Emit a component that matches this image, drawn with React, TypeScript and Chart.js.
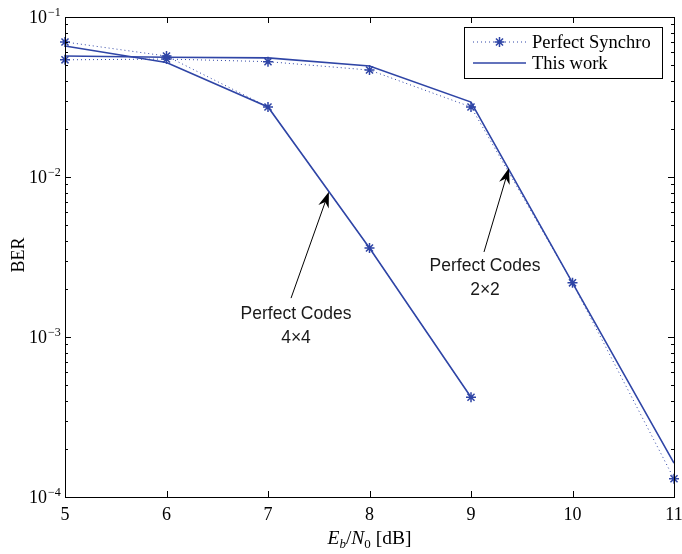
import React, { useEffect, useRef } from "react";
import { Chart, registerables } from "chart.js";
Chart.register(...registerables);

// ---- data ----
const snr4 = [5, 6, 7, 8, 9];
const snr2 = [5, 6, 7, 8, 9, 10, 11];
const sync4 = [0.0698, 0.057, 0.0274, 0.0036, 0.00042];
const work4 = [0.0659, 0.052, 0.0274, 0.0036, 0.00042];
const sync2 = [0.054, 0.0546, 0.0526, 0.0466, 0.0274, 0.00218, 0.00013];
const work2 = [0.057, 0.056, 0.0555, 0.0494, 0.0294, 0.00218, 0.000163];
const xTickValues = [5, 6, 7, 8, 9, 10, 11];
const yDecadeExponents = [-4, -3, -2, -1];
const legendLabels = ["Perfect Synchro", "This work"];
const xTitleParts = ["E", "b", "/", "N", "0", " [dB]"];
const yTitle = "BER";
const annotationTexts = [
  ["Perfect Codes", "4×4"],
  ["Perfect Codes", "2×2"],
];
// annotation anchors in data coordinates: [headX, headY, tailX, tailY, textX, textY]
const annotationAnchors = [
  [7.6, 0.0081, 7.227, 0.00175, 7.276, 0.00141],
  [9.374, 0.01138, 9.128, 0.0034, 9.138, 0.00282],
];

const BLUE = "#2f45a6";

function drawStar(ctx: CanvasRenderingContext2D, x: number, y: number, r: number) {
  ctx.beginPath();
  ctx.moveTo(x - r, y);
  ctx.lineTo(x + r, y);
  ctx.moveTo(x, y - r);
  ctx.lineTo(x, y + r);
  const d = r * 0.7071;
  ctx.moveTo(x - d, y - d);
  ctx.lineTo(x + d, y + d);
  ctx.moveTo(x - d, y + d);
  ctx.lineTo(x + d, y - d);
  ctx.stroke();
}

const decorPlugin = {
  id: "decor",
  afterDraw(chart: any) {
    const ctx: CanvasRenderingContext2D = chart.ctx;
    const { left, right, top, bottom } = chart.chartArea;
    const xs = chart.scales.x;
    const ys = chart.scales.y;
    ctx.save();
    // frame
    ctx.strokeStyle = "#000";
    ctx.lineWidth = 1;
    ctx.strokeRect(Math.round(left) + 0.5, Math.round(top) + 0.5, Math.round(right - left), Math.round(bottom - top));
    // x ticks (inward, top and bottom)
    ctx.beginPath();
    xTickValues.forEach((v) => {
      const px = Math.round(xs.getPixelForValue(v)) + 0.5;
      ctx.moveTo(px, bottom);
      ctx.lineTo(px, bottom - 6);
      ctx.moveTo(px, top);
      ctx.lineTo(px, top + 6);
    });
    // y ticks major + minor
    yDecadeExponents.forEach((e) => {
      const base = Math.pow(10, e);
      const py = Math.round(ys.getPixelForValue(base)) + 0.5;
      ctx.moveTo(left, py);
      ctx.lineTo(left + 6, py);
      ctx.moveTo(right, py);
      ctx.lineTo(right - 6, py);
      if (e < -1) {
        for (let m = 2; m <= 9; m++) {
          const pm = Math.round(ys.getPixelForValue(base * m)) + 0.5;
          ctx.moveTo(left, pm);
          ctx.lineTo(left + 3, pm);
          ctx.moveTo(right, pm);
          ctx.lineTo(right - 3, pm);
        }
      }
    });
    ctx.stroke();

    // y tick labels 10^e
    ctx.fillStyle = "#000";
    yDecadeExponents.forEach((e) => {
      const py = ys.getPixelForValue(Math.pow(10, e));
      ctx.font = "18px 'Liberation Serif'";
      ctx.textAlign = "right";
      ctx.textBaseline = "alphabetic";
      ctx.fillText("10", 47, py + 6);
      ctx.font = "12px 'Liberation Serif'";
      ctx.textAlign = "left";
      ctx.fillText("−" + Math.abs(e), 48, py - 1);
    });

    // x title
    const segs = [
      { t: xTitleParts[0], f: "italic 19.5px 'Liberation Serif'", dy: 0 },
      { t: xTitleParts[1], f: "italic 13px 'Liberation Serif'", dy: 4 },
      { t: xTitleParts[2], f: "19.5px 'Liberation Serif'", dy: 0 },
      { t: xTitleParts[3], f: "italic 19.5px 'Liberation Serif'", dy: 0 },
      { t: xTitleParts[4], f: "13px 'Liberation Serif'", dy: 4 },
      { t: xTitleParts[5], f: "19.5px 'Liberation Serif'", dy: 0 },
    ];
    let total = 0;
    segs.forEach((s) => {
      ctx.font = s.f;
      total += ctx.measureText(s.t).width;
    });
    let cx = (left + right) / 2 - total / 2;
    ctx.textAlign = "left";
    ctx.textBaseline = "alphabetic";
    segs.forEach((s) => {
      ctx.font = s.f;
      ctx.fillText(s.t, cx, 544 + s.dy);
      cx += ctx.measureText(s.t).width;
    });

    // y title
    ctx.save();
    ctx.translate(19, (top + bottom) / 2 - 2);
    ctx.rotate(-Math.PI / 2);
    ctx.font = "18px 'Liberation Serif'";
    ctx.textAlign = "center";
    ctx.textBaseline = "middle";
    ctx.fillText(yTitle, 0, 0);
    ctx.restore();

    // annotations
    annotationAnchors.forEach((a, i) => {
      const hx = xs.getPixelForValue(a[0]);
      const hy = ys.getPixelForValue(a[1]);
      const tx = xs.getPixelForValue(a[2]);
      const ty = ys.getPixelForValue(a[3]);
      const dx = hx - tx;
      const dy = hy - ty;
      const len = Math.hypot(dx, dy);
      const ux = dx / len;
      const uy = dy / len;
      const nx = -uy;
      const ny = ux;
      ctx.strokeStyle = "#000";
      ctx.lineWidth = 1;
      ctx.beginPath();
      ctx.moveTo(tx, ty);
      ctx.lineTo(hx - ux * 8, hy - uy * 8);
      ctx.stroke();
      const L = 16;
      const W = 5.5;
      ctx.fillStyle = "#000";
      ctx.beginPath();
      ctx.moveTo(hx, hy);
      ctx.lineTo(hx - ux * L + nx * W, hy - uy * L + ny * W);
      ctx.lineTo(hx - ux * (L - 5), hy - uy * (L - 5));
      ctx.lineTo(hx - ux * L - nx * W, hy - uy * L - ny * W);
      ctx.closePath();
      ctx.fill();
      const lx = xs.getPixelForValue(a[4]);
      const ly = ys.getPixelForValue(a[5]);
      ctx.fillStyle = "#1a1a1a";
      ctx.font = "17.5px 'Liberation Sans'";
      ctx.textAlign = "center";
      ctx.textBaseline = "middle";
      ctx.fillText(annotationTexts[i][0], lx, ly + 1);
      ctx.fillText(annotationTexts[i][1], lx, ly + 25);
    });

    // legend
    const bx = 464.5, by = 27.5, bw = 198, bh = 51;
    ctx.fillStyle = "#fff";
    ctx.fillRect(bx, by, bw, bh);
    ctx.strokeStyle = "#000";
    ctx.lineWidth = 1;
    ctx.strokeRect(bx, by, bw, bh);
    const rows = [42, 63];
    // row 1: dotted + star
    ctx.strokeStyle = BLUE;
    ctx.setLineDash([1, 3]);
    ctx.beginPath();
    ctx.moveTo(473, rows[0]);
    ctx.lineTo(526, rows[0]);
    ctx.stroke();
    ctx.setLineDash([]);
    ctx.lineWidth = 1.5;
    drawStar(ctx, 499.5, rows[0], 5);
    // row 2: solid
    ctx.lineWidth = 1.5;
    ctx.beginPath();
    ctx.moveTo(473, rows[1]);
    ctx.lineTo(526, rows[1]);
    ctx.stroke();
    ctx.fillStyle = "#000";
    ctx.font = "18.5px 'Liberation Serif'";
    ctx.textAlign = "left";
    ctx.textBaseline = "middle";
    ctx.fillText(legendLabels[0], 532, rows[0] + 1);
    ctx.fillText(legendLabels[1], 532, rows[1] + 1);
    ctx.restore();
  },
};

function toPoints(xs: number[], ys: number[]) {
  return xs.map((x, i) => ({ x, y: ys[i] }));
}

export default function App() {
  const ref = useRef<HTMLCanvasElement>(null);
  useEffect(() => {
    if (!ref.current) return;
    const dotted = {
      borderColor: BLUE,
      borderWidth: 1,
      borderDash: [1, 3],
      pointStyle: "star",
      pointRadius: 5,
      pointBorderWidth: 1.5,
      pointBorderColor: BLUE,
      pointBackgroundColor: BLUE,
      fill: false,
      tension: 0,
      clip: false,
    };
    const solid = {
      borderColor: BLUE,
      borderWidth: 1.6,
      pointRadius: 0,
      fill: false,
      tension: 0,
      clip: false,
    };
    const chart = new Chart(ref.current, {
      type: "line",
      data: {
        datasets: [
          { label: legendLabels[0] + " 4x4", data: toPoints(snr4, sync4), ...dotted },
          { label: legendLabels[1] + " 4x4", data: toPoints(snr4, work4), ...solid },
          { label: legendLabels[0] + " 2x2", data: toPoints(snr2, sync2), ...dotted },
          { label: legendLabels[1] + " 2x2", data: toPoints(snr2, work2), ...solid },
        ] as any,
      },
      options: {
        animation: false,
        responsive: false,
        layout: { padding: { top: 17, right: 8, left: 0, bottom: 0 } },
        plugins: { legend: { display: false }, tooltip: { enabled: false } },
        scales: {
          x: {
            type: "linear",
            min: 5,
            max: 11,
            afterFit: (s: any) => {
              s.height = 57;
              s.paddingLeft = 0;
              s.paddingRight = 0;
            },
            afterBuildTicks: (s: any) => {
              s.ticks = xTickValues.map((v) => ({ value: v }));
            },
            ticks: {
              font: { family: "'Liberation Serif'", size: 18 },
              color: "#000",
              padding: 7,
              maxRotation: 0,
              callback: (v: any) => String(v),
            },
            grid: { display: false, drawTicks: false },
            border: { display: false },
          },
          y: {
            type: "logarithmic",
            min: 1e-4,
            max: 1e-1,
            afterFit: (s: any) => {
              s.width = 65;
            },
            ticks: { display: false },
            grid: { display: false, drawTicks: false },
            border: { display: false },
          },
        },
      } as any,
      plugins: [decorPlugin],
    });
    return () => chart.destroy();
  }, []);
  return (
    <div style={{ position: "absolute", left: 0, top: 0, width: 682, height: 554, background: "#fff" }}>
      <canvas ref={ref} width={682} height={554} style={{ display: "block" }} />
    </div>
  );
}
